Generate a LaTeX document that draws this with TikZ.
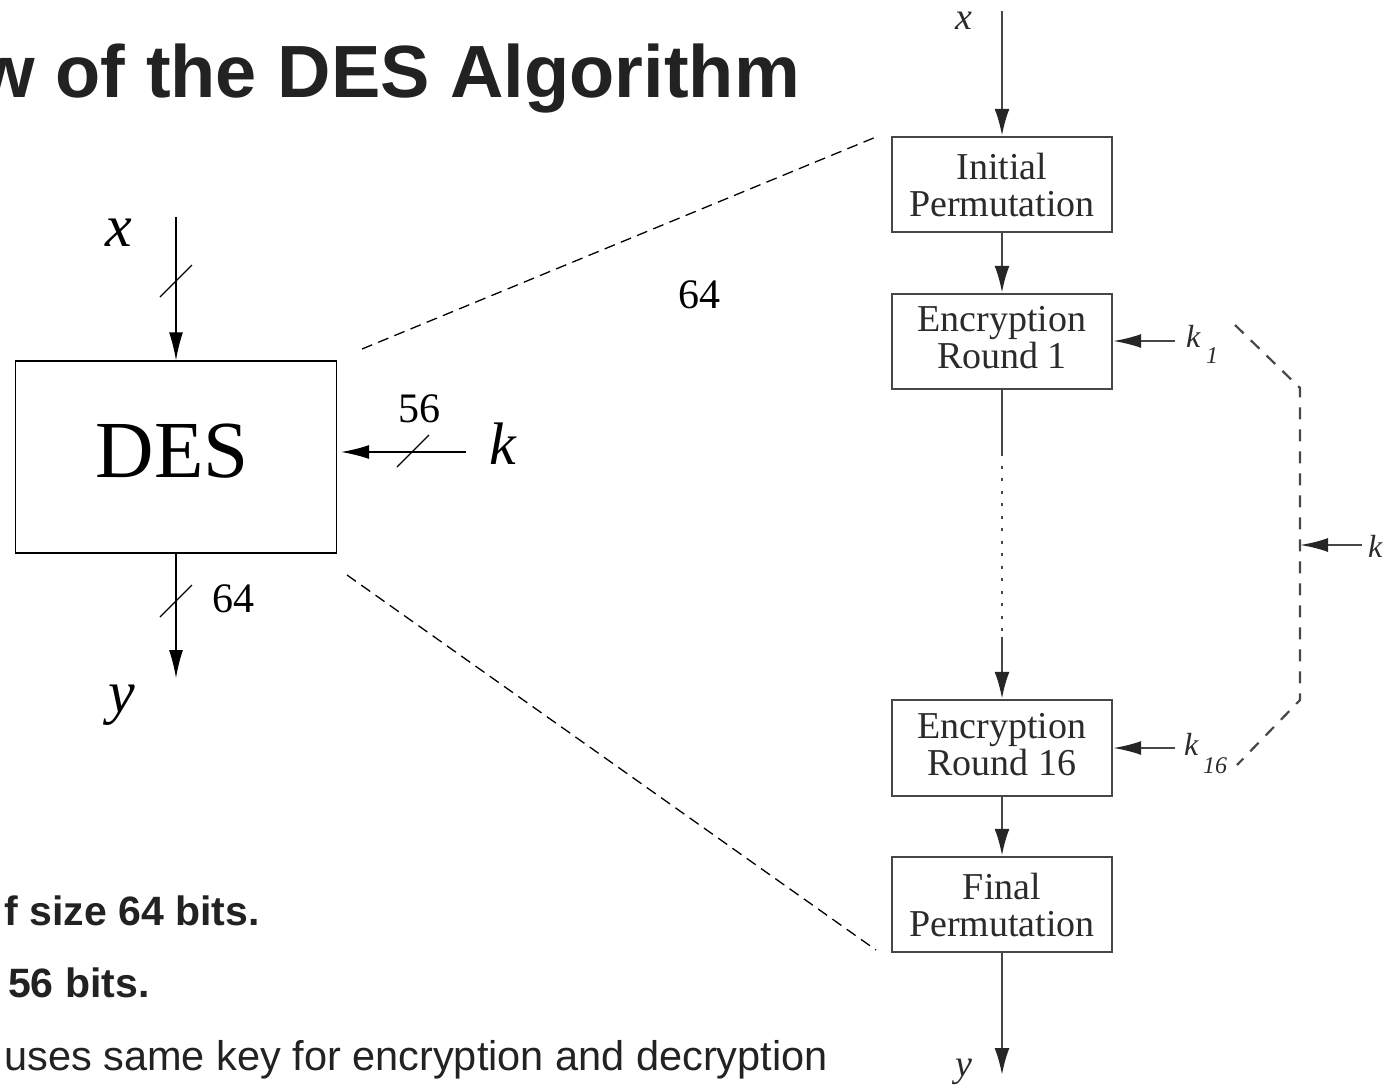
\documentclass[tikz,border=0pt]{standalone}
\usepackage{fontspec}
\setmainfont{Liberation Serif}
\newfontfamily\arialfont{Liberation Sans}
\usetikzlibrary{arrows.meta,calc}
\definecolor{ink}{HTML}{222222}
\definecolor{scan}{HTML}{474747}
\definecolor{scantip}{HTML}{262626}
\definecolor{scantext}{HTML}{2B2B2B}
\newcommand\setfs[1]{\fontsize{#1}{#1}\selectfont}
\begin{document}
\begin{tikzpicture}[x=1pt,y=-1pt,
  blk/.style={line width=1.3pt, draw=black},
  tipL/.style={-{Latex[length=28pt,width=14pt]}},
  slashmark/.style={line width=1.3pt, draw=black},
  zoomline/.style={line width=1.3pt, draw=black, dash pattern=on 11pt off 6.5pt},
  lbl/.style={inner sep=0pt, text=black},
  sbox/.style={draw=scan, line width=2.4pt, minimum width=220pt, minimum height=95pt,
    inner sep=0pt, align=center, text=scantext, font=\fontsize{38}{37}\selectfont},
  sline/.style={draw=scan, line width=2.4pt},
  sarrow/.style={sline, -{Latex[length=27pt,width=15pt,color=scantip]}},
  karrow/.style={draw=scan, line width=2.2pt, -{Latex[length=28pt,width=14pt,color=scantip]}},
  sdash/.style={draw=scan, line width=2.2pt, dash pattern=on 12pt off 10pt},
  slbl/.style={inner sep=0pt, text=scantext},
  bullet/.style={inner sep=0pt, text=ink}]
\useasboundingbox (0,0) rectangle (1385,1085);
\clip (0,0) rectangle (1385,1085);

% heading and bullet lines
\node[bullet, anchor=base east, font=\arialfont\bfseries\setfs{74}] (title) at (800,97) {w of the DES Algorithm};
\node[bullet, anchor=base east, font=\arialfont\bfseries\setfs{41}] (line1) at (260,925) {f size 64 bits.};
\node[bullet, anchor=base west, font=\arialfont\bfseries\setfs{41}] (line2) at (8,997) {56 bits.};
\node[bullet, anchor=base east, font=\arialfont\setfs{41.5}] (line3) at (828,1070) {uses same key for encryption and decryption};

% DES as a black box
\node[blk, draw, minimum width=321pt, minimum height=192pt, inner sep=0pt] (des) at (176,457) {};
\node[lbl, anchor=base, font=\setfs{81}] (deslbl) at (172.5,477) {DES};

\coordinate (xin) at (176,217);
\node[lbl, anchor=base, font=\itshape\setfs{60}] (xlbl) at (119,246) {x};
\draw[blk, tipL] (xin) -- (des.north);
\coordinate (xslash) at (176,281);
\draw[slashmark] ($(xslash)+(-16,16)$) -- ($(xslash)+(16,-16)$);

\coordinate (kin) at (466,452);
\node[lbl, anchor=base, font=\itshape\setfs{60}] (klbl) at (503,464) {k};
\draw[blk, tipL, shorten >=4pt] (kin) -- (kin -| des.east);
\coordinate (kslash) at (413,451);
\draw[slashmark] ($(kslash)+(-16,16)$) -- ($(kslash)+(16,-16)$);
\node[lbl, anchor=base, font=\setfs{42}] (klen) at (419,422) {56};

\coordinate (yout) at (176,678);
\draw[blk, tipL] (des.south) -- (yout);
\coordinate (yslash) at (176,601);
\draw[slashmark] ($(yslash)+(-16,16)$) -- ($(yslash)+(16,-16)$);
\node[lbl, anchor=base west, font=\setfs{42}] (ylen) at (212,612) {64};
\node[lbl, anchor=base, font=\itshape\setfs{60}] (ylbl) at (122,712) {y};

\node[lbl, anchor=base, font=\setfs{42}] (blocklen) at (699,308) {64};

% inner structure of DES
\node[sbox] (ip) at (1002,184.5) {Initial\\Permutation};
\node[sbox] (r1) at (1002,341.5) {Encryption\\Round 1\vphantom{p}};
\node[sbox, minimum height=96pt] (r16) at (1002,748) {Encryption\\Round 16\vphantom{p}};
\node[sbox] (fp) at (1002,904.5) {Final\\Permutation};

% zoom lines from the black box to the inner structure
\coordinate (zt) at (876,137);
\coordinate (zb) at (876,950);
\draw[zoomline] (362,349) -- (zt);
\draw[zoomline] (347,575) -- (zb);

\coordinate (xr) at (1002,11);
\node[slbl, anchor=base, font=\itshape\setfs{38}] (xrlbl) at (964,29) {x};
\draw[sarrow] (xr) -- (ip);
\draw[sarrow] (ip) -- (r1);
\coordinate (d1) at (1002,453);
\coordinate (d2) at (1002,637);
\draw[sline] (r1) -- (d1);
\draw[sline, line width=2.6pt, dash pattern=on 3pt off 9.5pt] (d1) -- (d2);
\draw[sarrow] (d2) -- (r16);
\draw[sarrow] (r16) -- (fp);
\coordinate (yr) at (1002,1075);
\draw[sarrow] (fp) -- (yr);
\node[slbl, anchor=base, font=\itshape\setfs{38}] (yrlbl) at (964,1076) {y};

% round keys
\coordinate (k1s) at (1175,341);
\draw[karrow] (k1s) -- (k1s -| r1.east);
\node[slbl, anchor=base west, font=\itshape\setfs{32}] (k1lbl) at (1186,347) {k};
\node[slbl, anchor=base west, font=\itshape\setfs{24}] (k1sub) at (1206,363) {1};

\coordinate (k16s) at (1175,748);
\draw[karrow] (k16s) -- (k16s -| r16.east);
\node[slbl, anchor=base west, font=\itshape\setfs{32}] (k16lbl) at (1184,755) {k};
\node[slbl, anchor=base west, font=\itshape\setfs{24}] (k16sub) at (1203,773) {16};

% key schedule path
\coordinate (kp1) at (1235,325);
\coordinate (kp2) at (1300,388);
\coordinate (kp3) at (1300,700);
\coordinate (kp4) at (1237,765);
\draw[sdash] (kp1) -- (kp2) -- (kp3) -- (kp4);
\coordinate (krs) at (1362,545);
\draw[karrow] (krs) -- (krs -| kp2);
\node[slbl, anchor=base west, font=\itshape\setfs{32}] (krlbl) at (1368,557) {k};
\end{tikzpicture}
\end{document}
